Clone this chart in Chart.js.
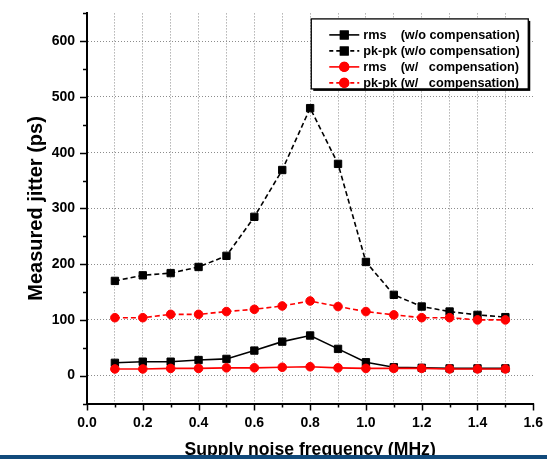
<!DOCTYPE html>
<html>
<head>
<meta charset="utf-8">
<script src="https://cdn.jsdelivr.net/npm/chart.js@4/dist/chart.umd.min.js"></script>
<style>
  html, body { margin: 0; padding: 0; background: #fff; }
  #wrap { position: relative; width: 547px; height: 459px; overflow: hidden; }
  #bar { position: absolute; left: 0; top: 455px; width: 547px; height: 4px; background: #114a7b; }
</style>
</head>
<body>
<div id="wrap">
  <canvas id="c" width="547" height="459"></canvas>
  <div id="bar"></div>
</div>
<script>
const freqs = [0.1, 0.2, 0.3, 0.4, 0.5, 0.6, 0.7, 0.8, 0.9, 1.0, 1.1, 1.2, 1.3, 1.4, 1.5];
const rmsWo = [23, 25, 25, 28, 30, 45, 61, 72, 48, 24, 15, 14, 13, 13, 13];
const pkWo  = [170, 180, 184, 195, 215, 285, 369, 480, 380, 204, 145, 124, 115, 109, 105];
const rmsW  = [12, 12, 13, 13, 14, 14, 15, 16, 14, 13, 13, 13, 12, 12, 12];
const pkW   = [104, 104, 110, 110, 115, 119, 125, 134, 124, 115, 109, 104, 104, 100, 100];
const seriesLabels = ['rms    (w/o compensation)', 'pk-pk (w/o compensation)', 'rms    (w/   compensation)', 'pk-pk (w/   compensation)'];
const xTickLabels = ['0.0', '0.2', '0.4', '0.6', '0.8', '1.0', '1.2', '1.4', '1.6'];
const yTickLabels = ['0', '100', '200', '300', '400', '500', '600'];
const xTitle = 'Supply noise frequency (MHz)';
const yTitle = 'Measured jitter (ps)';

const FONT = '"Liberation Sans", Arial, sans-serif';
const pts = arr => freqs.map((f, i) => ({ x: f, y: arr[i] }));

function mkSet(label, data, color, dashed, shape, order) {
  return {
    label, data: pts(data), borderColor: color, backgroundColor: color,
    borderWidth: 1.6, borderDash: dashed ? [5, 3] : [],
    pointStyle: shape, pointRadius: shape === 'rect' ? 5.2 : 4.3,
    pointBorderWidth: 1, pointBackgroundColor: color, pointBorderColor: color,
    tension: 0, order
  };
}

const datasets = [
  mkSet(seriesLabels[0], rmsWo, '#000000', false, 'rect', 1),
  mkSet(seriesLabels[1], pkWo, '#000000', true, 'rect', 1),
  mkSet(seriesLabels[2], rmsW, '#ff0000', false, 'circle', 0),
  mkSet(seriesLabels[3], pkW, '#ff0000', true, 'circle', 0)
];

const r10 = v => Math.round(v * 10);
const r1 = v => Math.round(v);

// draws tick marks (major/minor) through the scales
const tickPlugin = {
  id: 'ticksMarks',
  afterDraw(chart) {
    const ctx = chart.ctx;
    const xs = chart.scales.x, ys = chart.scales.y;
    ctx.save();
    ctx.strokeStyle = '#000';
    ctx.lineWidth = 1.5;
    ctx.setLineDash([]);
    xs.ticks.forEach(t => {
      const px = Math.round(xs.getPixelForValue(t.value)) + 0.5;
      const major = r10(t.value) % 2 === 0;
      ctx.beginPath();
      ctx.moveTo(px, xs.top);
      ctx.lineTo(px, xs.top + (major ? 7 : 4));
      ctx.stroke();
    });
    ys.ticks.forEach(t => {
      const py = Math.round(ys.getPixelForValue(t.value)) + 0.5;
      const major = r1(t.value) % 100 === 0;
      ctx.beginPath();
      ctx.moveTo(ys.right, py);
      ctx.lineTo(ys.right - (major ? 7 : 4), py);
      ctx.stroke();
    });
    ctx.restore();
  }
};

// framed legend inside the plot area
const legendPlugin = {
  id: 'boxLegend',
  afterDraw(chart) {
    const ctx = chart.ctx;
    const ca = chart.chartArea;
    const w = 217, h = 70;
    const x0 = ca.right - 5 - w, y0 = ca.top + 5.5;
    ctx.save();
    ctx.fillStyle = '#000';
    ctx.fillRect(x0 + 2, y0 + 2, w, h);
    ctx.fillStyle = '#fff';
    ctx.fillRect(x0, y0, w, h);
    ctx.strokeStyle = '#000';
    ctx.lineWidth = 1.3;
    ctx.strokeRect(x0, y0, w, h);
    chart.data.datasets.forEach((ds, i) => {
      const cy = y0 + 16 + i * 16;
      const lx0 = x0 + 18, lx1 = x0 + 48;
      ctx.strokeStyle = ds.borderColor;
      ctx.lineWidth = ds.borderWidth;
      ctx.setLineDash(ds.borderDash.length ? [4, 3] : []);
      ctx.beginPath();
      ctx.moveTo(lx0, cy); ctx.lineTo(lx1, cy);
      ctx.stroke();
      ctx.setLineDash([]);
      Chart.helpers.drawPoint(ctx, {
        pointStyle: ds.pointStyle, radius: ds.pointRadius, borderWidth: 1, rotation: 0
      }, (lx0 + lx1) / 2, cy);
      ctx.fillStyle = ds.borderColor;
      ctx.strokeStyle = ds.borderColor;
      ctx.fill(); ctx.stroke();
      ctx.fillStyle = '#000';
      ctx.font = 'bold 12.7px ' + FONT;
      ctx.textBaseline = 'middle';
      ctx.textAlign = 'left';
      ctx.fillText(ds.label, x0 + 52, cy + 0.5);
    });
    ctx.restore();
  }
};

new Chart(document.getElementById('c'), {
  type: 'line',
  data: { datasets },
  options: {
    responsive: false,
    animation: false,
    devicePixelRatio: 1,
    layout: { padding: { left: 0, right: 12, top: 11.5, bottom: 0 } },
    plugins: { legend: { display: false }, tooltip: { enabled: false } },
    scales: {
      x: {
        type: 'linear', min: 0, max: 1.6,
        afterFit: s => { s.height = 55.5; },
        ticks: {
          stepSize: 0.1, autoSkip: false, maxRotation: 0, padding: 4,
          color: '#000', font: { family: FONT, size: 14, weight: 'bold' },
          callback: v => (r10(v) % 2 === 0 ? xTickLabels[r10(v) / 2] : '')
        },
        grid: {
          drawTicks: true, tickLength: 7, tickColor: 'transparent',
          lineWidth: 1,
          color: c => {
            const v = r10(c.tick.value);
            return (v === 0 || v === 16) ? 'transparent' : '#8c8c8c';
          }
        },
        border: { display: true, color: '#000', width: 2, dash: [1, 2] },
        title: {
          display: true, text: xTitle, color: '#000',
          font: { family: FONT, size: 17.6, weight: 'bold', lineHeight: 1 },
          padding: { top: 0, bottom: 0 }
        }
      },
      y: {
        type: 'linear', min: -50, max: 650,
        afterFit: s => { s.width = 87; },
        ticks: {
          stepSize: 50, autoSkip: false, padding: 5,
          color: '#000', font: { family: FONT, size: 14, weight: 'bold' },
          callback: v => {
            const n = r1(v);
            return (n % 100 === 0 && n >= 0 && n <= 600) ? yTickLabels[n / 100] : '';
          }
        },
        grid: {
          drawTicks: true, tickLength: 7, tickColor: 'transparent',
          lineWidth: 1,
          color: c => {
            const n = r1(c.tick.value);
            return (n % 100 === 0 && n >= 0 && n <= 600) ? '#8c8c8c' : 'transparent';
          }
        },
        border: { display: true, color: '#000', width: 2, dash: [1, 2] },
        title: {
          display: true, text: yTitle, color: '#000',
          font: { family: FONT, size: 20, weight: 'bold', lineHeight: 1.2 },
          padding: { top: 24, bottom: 0 }
        }
      }
    }
  },
  plugins: [tickPlugin, legendPlugin]
});
</script>
</body>
</html>
